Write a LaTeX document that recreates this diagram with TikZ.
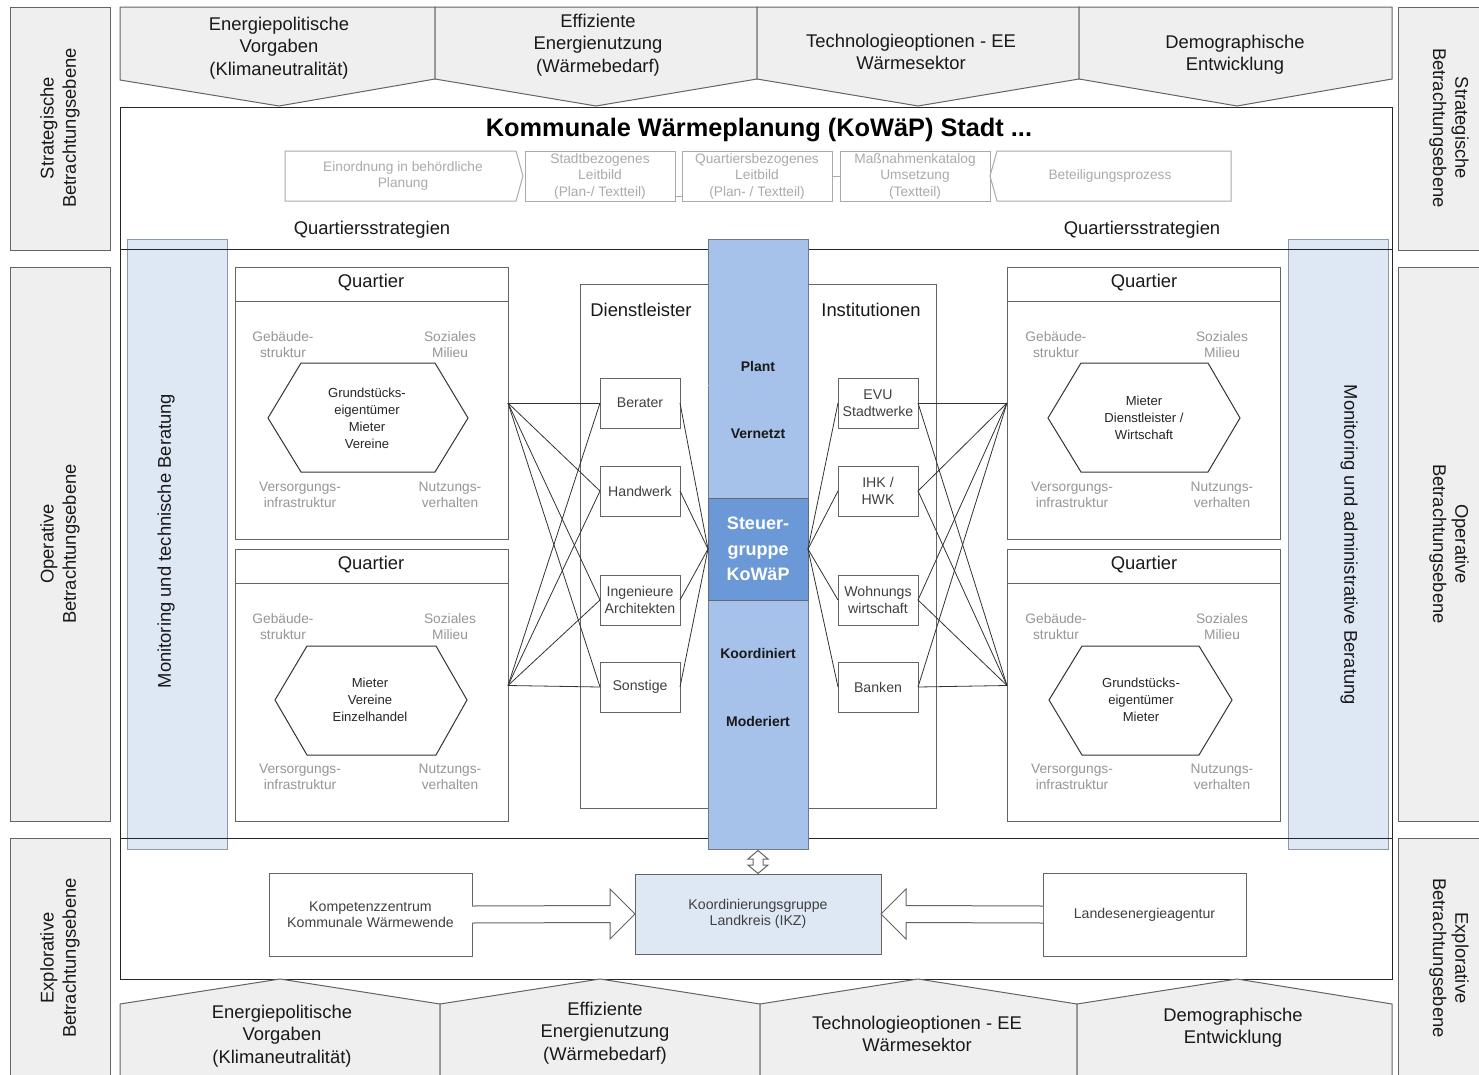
\documentclass[tikz,border=0pt]{standalone}
\usepackage{fontspec}
\setmainfont{Liberation Sans}
\usepackage[dvipsnames,svgnames]{xcolor}
\usetikzlibrary{calc}

\definecolor{ebenegray}{RGB}{239,239,239}
\definecolor{linegray}{RGB}{100,100,100}
\definecolor{softgray}{RGB}{150,150,150}
\definecolor{subgray}{RGB}{170,170,170}
\definecolor{monblue}{RGB}{222,232,245}
\definecolor{monedge}{RGB}{140,152,172}
\definecolor{colblue}{RGB}{166,194,234}
\definecolor{steuerblue}{RGB}{107,153,216}

\tikzset{
  ebenebox/.style={draw=linegray, fill=ebenegray, line width=0.75pt},
  pentabox/.style={draw=linegray, fill=ebenegray, line width=0.75pt},
  frame/.style={draw=black!85, line width=0.75pt},
  monbox/.style={draw=monedge, fill=monblue, line width=0.75pt},
  bigtext/.style={font=\fontsize{13.8}{16.8}\selectfont, align=center, inner sep=0.75pt, text=black!90},
  graylabel/.style={font=\fontsize{10.3}{12}\selectfont, align=center, text=softgray, inner sep=0.75pt},
  hextext/.style={font=\fontsize{9.8}{12.7}\selectfont, align=center, text=black!85, inner sep=0.75pt},
  subbox/.style={draw=subgray, line width=0.75pt, minimum width=112.5pt, minimum height=37.5pt, inner sep=0pt, outer sep=0pt, align=center, text=subgray, font=\fontsize{10.3}{12.4}\selectfont},
  subtext/.style={align=center, text=subgray, font=\fontsize{10.3}{12.4}\selectfont, inner sep=0.75pt},
  quartier/.style={draw=linegray, line width=0.75pt, minimum width=204.75pt, minimum height=204pt, inner sep=0pt, outer sep=0pt},
  actor/.style={draw=linegray, fill=white, line width=0.75pt, minimum width=60pt, minimum height=37.5pt, inner sep=0pt, outer sep=0pt, align=center, font=\fontsize{10.6}{12.7}\selectfont, text=black!75},
  link/.style={draw=black!80, line width=0.6pt},
  phase/.style={font=\fontsize{10.5}{12}\selectfont\bfseries, text=black!90, inner sep=0.75pt},
  partner/.style={draw=linegray, fill=white, line width=0.75pt, minimum width=152.25pt, minimum height=62.25pt, inner sep=0pt, outer sep=0pt, align=center, font=\fontsize{10.6}{12}\selectfont, text=black!75},
  hollowarrow/.style={draw=linegray, fill=white, line width=0.75pt}
}

\begin{document}
\begin{tikzpicture}[x=0.75pt,y=0.75pt,yscale=-1,xscale=1]
\useasboundingbox (0,0) rectangle (1479,1075);

%Shape: Ebenen links
\draw[ebenebox] (10,7) rectangle (110,250);
\draw[ebenebox] (10,267) rectangle (110,821);
\draw[ebenebox] (10,838) rectangle (110,1090);
%Shape: Ebenen rechts
\draw[ebenebox] (1398,7) rectangle (1490,250);
\draw[ebenebox] (1398,267) rectangle (1490,821);
\draw[ebenebox] (1398,838) rectangle (1490,1090);

% Text Node
\node[bigtext, rotate=90] (stratL) at (60,128) {Strategische\\Betrachtungsebene};
% Text Node
\node[bigtext, rotate=90] (operL) at (60,544) {Operative\\Betrachtungsebene};
% Text Node
\node[bigtext, rotate=90] (explL) at (60,958) {Explorative\\Betrachtungsebene};
% Text Node
\node[bigtext, rotate=-90] (stratR) at (1449,128) {Strategische\\Betrachtungsebene};
% Text Node
\node[bigtext, rotate=-90] (operR) at (1449,544) {Operative\\Betrachtungsebene};
% Text Node
\node[bigtext, rotate=-90] (explR) at (1449,958) {Explorative\\Betrachtungsebene};

%Shape: Rahmen
\draw[frame, fill=white] (120,107) rectangle (1392,979);

%Shape: Pentagons oben
\draw[pentabox] (120,7) -- (435,7) -- (435,79) -- (279,106) -- (120,80) -- cycle;
\draw[pentabox] (435,7) -- (757,7) -- (757,79) -- (596,106) -- (435,79) -- cycle;
\draw[pentabox] (757,7) -- (1079,7) -- (1079,79) -- (918,106) -- (757,79) -- cycle;
\draw[pentabox] (1079,7) -- (1392,7) -- (1392,79) -- (1237,106) -- (1079,79) -- cycle;
%Shape: Pentagons unten
\draw[pentabox] (120,1004) -- (280,979) -- (440,1004) -- (440,1090) -- (120,1090) -- cycle;
\draw[pentabox] (440,1004) -- (600,979) -- (760,1004) -- (760,1090) -- (440,1090) -- cycle;
\draw[pentabox] (760,1004) -- (918,979) -- (1077,1004) -- (1077,1090) -- (760,1090) -- cycle;
\draw[pentabox] (1077,1004) -- (1237,979) -- (1392,1004) -- (1392,1090) -- (1077,1090) -- cycle;

% Text Node
\node[bigtext] (vorgabenO) at (279,48) {Energiepolitische\\Vorgaben\\(Klimaneutralität)};
% Text Node
\node[bigtext] (effizienzO) at (598,45) {Effiziente\\Energienutzung\\(Wärmebedarf)};
% Text Node
\node[bigtext] (technikO) at (911,52) {Technologieoptionen - EE\\Wärmesektor};
% Text Node
\node[bigtext] (demografieO) at (1235,55) {Demographische\\Entwicklung};
% Text Node
\node[bigtext] (vorgabenU) at (282,1036) {Energiepolitische\\Vorgaben\\(Klimaneutralität)};
% Text Node
\node[bigtext] (effizienzU) at (605,1033) {Effiziente\\Energienutzung\\(Wärmebedarf)};
% Text Node
\node[bigtext] (technikU) at (917,1034) {Technologieoptionen - EE\\Wärmesektor};
% Text Node
\node[bigtext] (demografieU) at (1233,1028) {Demographische\\Entwicklung};

% Text Node
\node[font=\fontsize{19}{23}\selectfont\bfseries, inner sep=0.75pt] (title) at (759,130) {Kommunale Wärmeplanung (KoWäP) Stadt ...};

%Shape: Planungsbausteine
\draw[draw=subgray, line width=0.75pt] (285,151) -- (516,151) -- (523,176) -- (516,201) -- (285,201) -- cycle;
\draw[draw=subgray, line width=0.75pt] (997,151) -- (1231,151) -- (1231,201) -- (997,201) -- (990,176) -- cycle;
% Text Node
\node[subtext] (einordnung) at (403,176) {Einordnung in behördliche\\Planung};
% Text Node
\node[subtext] (beteiligung) at (1110,176) {Beteiligungsprozess};
\node[subbox] (stadtleitbild) at (600,176) {Stadtbezogenes\\Leitbild\\(Plan-/ Textteil)};
\node[subbox] (quartleitbild) at (757,176) {Quartiersbezogenes\\Leitbild\\(Plan- / Textteil)};
\node[subbox] (katalog) at (915,176) {Maßnahmenkatalog\\Umsetzung\\(Textteil)};
%Straight Lines
\draw[draw=subgray, line width=0.75pt] ($(stadtleitbild.south east)+(0,-5)$) -- ($(quartleitbild.south west)+(0,-5)$);
\draw[draw=subgray, line width=0.75pt] (quartleitbild.east) -- (katalog.west);

% Text Node
\node[bigtext] (strategienL) at (372,230) {Quartiersstrategien};
% Text Node
\node[bigtext] (strategienR) at (1142,230) {Quartiersstrategien};

%Shape: Monitoring
\draw[monbox] (127,239) rectangle (227,849);
\draw[monbox] (1288,239) rectangle (1388,849);
% Text Node
\node[bigtext, rotate=90] (monitoringL) at (166,541) {Monitoring und technische Beratung};
% Text Node
\node[bigtext, rotate=-90] (monitoringR) at (1349,545) {Monitoring und administrative Beratung};

%Straight Lines
\draw[frame] (120,249) -- (1392,249);
\draw[frame] (120,838) -- (1392,838);

%Shape: Dienstleister / Institutionen
\draw[draw=linegray, line width=0.75pt] (708,284) -- (580,284) -- (580,808) -- (708,808);
\draw[draw=linegray, line width=0.75pt] (808,284) -- (936,284) -- (936,808) -- (808,808);
% Text Node
\node[bigtext] (dienstleister) at (641,310) {Dienstleister};
% Text Node
\node[bigtext] (institutionen) at (871,310) {Institutionen};

%Shape: Quartiere
\node[quartier] (q1) at (371.5,403) {};
\node[quartier] (q2) at (371.5,685.5) {};
\node[quartier] (q3) at (1143.5,403) {};
\node[quartier] (q4) at (1143.5,685.5) {};
\draw[draw=linegray, line width=0.75pt] (235,301) -- (508,301);
\draw[draw=linegray, line width=0.75pt] (235,583) -- (508,583);
\draw[draw=linegray, line width=0.75pt] (1007,301) -- (1280,301);
\draw[draw=linegray, line width=0.75pt] (1007,583) -- (1280,583);
% Text Node
\node[bigtext] (q1title) at (371,283) {Quartier};
\node[bigtext] (q2title) at (371,565) {Quartier};
\node[bigtext] (q3title) at (1144,283) {Quartier};
\node[bigtext] (q4title) at (1144,565) {Quartier};

%Shape: Hexagons
\draw[draw=black!80, line width=0.75pt] (301,363) -- (435,363) -- (468,418) -- (435,472) -- (301,472) -- (268,418) -- cycle;
\draw[draw=black!80, line width=0.75pt] (307,646) -- (436,646) -- (467,700) -- (436,755) -- (307,755) -- (275,700) -- cycle;
\draw[draw=black!80, line width=0.75pt] (1081,363) -- (1208,363) -- (1240,418) -- (1208,472) -- (1081,472) -- (1048,418) -- cycle;
\draw[draw=black!80, line width=0.75pt] (1082,646) -- (1199,646) -- (1232,700) -- (1199,755) -- (1082,755) -- (1049,700) -- cycle;
% Text Node
\node[hextext] (q1akteure) at (367,418) {Grundstücks-\\eigentümer\\Mieter\\Vereine};
\node[hextext] (q2akteure) at (370,700) {Mieter\\Vereine\\Einzelhandel};
\node[hextext] (q3akteure) at (1144,418) {Mieter\\Dienstleister /\\Wirtschaft};
\node[hextext] (q4akteure) at (1141,700) {Grundstücks-\\eigentümer\\Mieter};

% Text Node
\node[graylabel] (q1geb) at (283,345) {Gebäude-\\struktur};
\node[graylabel] (q1soz) at (450,345) {Soziales\\Milieu};
\node[graylabel] (q1ver) at (300,495) {Versorgungs-\\infrastruktur};
\node[graylabel] (q1nut) at (450,495) {Nutzungs-\\verhalten};
\node[graylabel] (q2geb) at (283,627) {Gebäude-\\struktur};
\node[graylabel] (q2soz) at (450,627) {Soziales\\Milieu};
\node[graylabel] (q2ver) at (300,777) {Versorgungs-\\infrastruktur};
\node[graylabel] (q2nut) at (450,777) {Nutzungs-\\verhalten};
\node[graylabel] (q3geb) at (1056,345) {Gebäude-\\struktur};
\node[graylabel] (q3soz) at (1222,345) {Soziales\\Milieu};
\node[graylabel] (q3ver) at (1072,495) {Versorgungs-\\infrastruktur};
\node[graylabel] (q3nut) at (1222,495) {Nutzungs-\\verhalten};
\node[graylabel] (q4geb) at (1056,627) {Gebäude-\\struktur};
\node[graylabel] (q4soz) at (1222,627) {Soziales\\Milieu};
\node[graylabel] (q4ver) at (1072,777) {Versorgungs-\\infrastruktur};
\node[graylabel] (q4nut) at (1222,777) {Nutzungs-\\verhalten};

%Shape: Akteure
\node[actor] (berater) at (640,403) {Berater};
\node[actor] (handwerk) at (640,491) {Handwerk};
\node[actor] (ingenieure) at (640,600) {Ingenieure\\Architekten};
\node[actor] (sonstige) at (640,687) {Sonstige};
\node[actor] (evu) at (878,403) {EVU\\Stadtwerke};
\node[actor] (ihk) at (878,491) {IHK /\\HWK};
\node[actor] (wohnung) at (878,600) {Wohnungs\\wirtschaft};
\node[actor] (banken) at (878,687) {Banken};

%Shape: Steuerungssaeule
\node[draw=monedge!80!black, fill=colblue, line width=0.75pt, minimum width=75pt, minimum height=457.5pt, inner sep=0pt, outer sep=0pt] (saeule) at (758,544) {};
\draw[draw=steuerblue!60, line width=0.5pt] (708,385) -- (808,385);
\node[draw=monedge!70!black, fill=steuerblue, line width=0.75pt, minimum width=75pt, minimum height=76.5pt, inner sep=0pt, outer sep=0pt, align=center, text=white, font=\fontsize{13.5}{19}\selectfont\bfseries] (steuer) at (758,549) {Steuer-\\gruppe\\KoWäP};
% Text Node
\node[phase] (plant) at (758,366) {Plant};
\node[phase] (vernetzt) at (758,434) {Vernetzt};
\node[phase] (koordiniert) at (758,653) {Koordiniert};
\node[phase] (moderiert) at (758,721) {Moderiert};

%Straight Lines
\draw[link] (q1.east) -- (berater.west);
\draw[link] (q1.east) -- (handwerk.west);
\draw[link] (q1.east) -- (ingenieure.west);
\draw[link] (q1.east) -- (sonstige.west);
\draw[link] (q2.east) -- (berater.west);
\draw[link] (q2.east) -- (handwerk.west);
\draw[link] (q2.east) -- (ingenieure.west);
\draw[link] (q2.east) -- (sonstige.west);
\draw[link] (berater.east) -- (steuer.west);
\draw[link] (handwerk.east) -- (steuer.west);
\draw[link] (ingenieure.east) -- (steuer.west);
\draw[link] (sonstige.east) -- (steuer.west);
\draw[link] (evu.west) -- (steuer.east);
\draw[link] (ihk.west) -- (steuer.east);
\draw[link] (wohnung.west) -- (steuer.east);
\draw[link] (banken.west) -- (steuer.east);
\draw[link] (evu.east) -- (q3.west);
\draw[link] (ihk.east) -- (q3.west);
\draw[link] (wohnung.east) -- (q3.west);
\draw[link] (banken.east) -- (q3.west);
\draw[link] (evu.east) -- (q4.west);
\draw[link] (ihk.east) -- (q4.west);
\draw[link] (wohnung.east) -- (q4.west);
\draw[link] (banken.east) -- (q4.west);

%Shape: Explorative Ebene
\node[partner] (kompetenz) at (370.5,914.5) {Kompetenzzentrum\\Kommunale Wärmewende};
\node[partner, fill=monblue, minimum width=184.5pt, minimum height=60pt] (koordinierung) at (758,914) {Koordinierungsgruppe\\Landkreis (IKZ)};
\node[partner] (landesagentur) at (1144.5,914.5) {Landesenergieagentur};

%Shape: Block Arrows
\draw[hollowarrow] ($(kompetenz.east)+(0,-8.5)$) -- ($(koordinierung.west)+(-25,-8.5)$) -- ($(koordinierung.west)+(-25,-25)$) -- (koordinierung.west) -- ($(koordinierung.west)+(-25,25)$) -- ($(koordinierung.west)+(-25,8.5)$) -- ($(kompetenz.east)+(0,8.5)$);
\draw[hollowarrow] ($(landesagentur.west)+(0,-8.5)$) -- ($(koordinierung.east)+(25,-8.5)$) -- ($(koordinierung.east)+(25,-25)$) -- (koordinierung.east) -- ($(koordinierung.east)+(25,25)$) -- ($(koordinierung.east)+(25,8.5)$) -- ($(landesagentur.west)+(0,8.5)$);
\draw[hollowarrow] ($(saeule.south)+(0,1.5)$) -- ($(saeule.south)+(10,10)$) -- ($(saeule.south)+(5,10)$) -- ($(koordinierung.north)+(5,-9)$) -- ($(koordinierung.north)+(10,-9)$) -- ($(koordinierung.north)+(0,-0.5)$) -- ($(koordinierung.north)+(-10,-9)$) -- ($(koordinierung.north)+(-5,-9)$) -- ($(saeule.south)+(-5,10)$) -- ($(saeule.south)+(-10,10)$) -- cycle;
\end{tikzpicture}
\end{document}
